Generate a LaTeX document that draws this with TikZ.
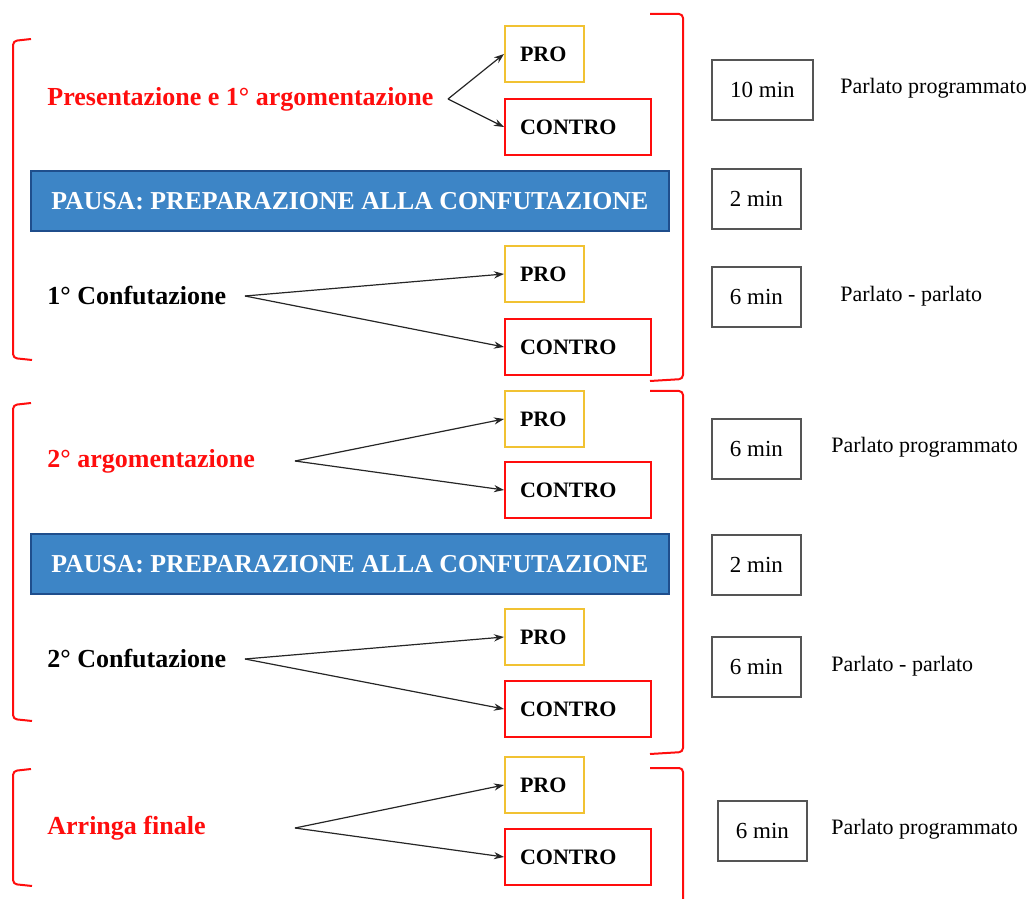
\documentclass[tikz,border=0pt]{standalone}
\usepackage{fontspec}
\setmainfont{Liberation Serif}
\usetikzlibrary{positioning,arrows.meta,calc}
\definecolor{cred}{HTML}{FF0D0D}
\definecolor{cpro}{HTML}{F1C232}
\definecolor{cblu}{HTML}{3D85C6}
\definecolor{cblud}{HTML}{1F4E8C}
\definecolor{cgry}{HTML}{555555}
\tikzset{
  pro/.style={rectangle, draw=cpro, line width=1pt, minimum height=28pt,
              text width=24.5pt, inner xsep=7.5pt, align=left,
              font=\fontsize{11}{13}\selectfont\bfseries, anchor=north west},
  contro/.style={pro, draw=cred, text width=58pt},
  pausa/.style={rectangle, draw=cblud, fill=cblu, line width=0.8pt,
                minimum width=319pt, minimum height=30pt, text=white,
                font=\fontsize{12.9}{15}\selectfont\bfseries, anchor=north west},
  tempo/.style={rectangle, draw=cgry, line width=0.9pt, minimum width=44.5pt,
                minimum height=30pt, font=\fontsize{11.5}{13}\selectfont, anchor=north west},
  fase/.style={anchor=west, inner sep=0pt, font=\fontsize{13}{15}\selectfont\bfseries},
  nota/.style={anchor=west, inner sep=0pt, font=\fontsize{11}{13}\selectfont},
  flow/.style={-{Stealth[length=5pt,width=3.6pt]}, line width=0.6pt, draw=black!85},
  brk/.style={draw=cred, line width=1pt, rounded corners=2pt}
}
\begin{document}
\begin{tikzpicture}[x=0.5pt, y=-0.5pt]
\useasboundingbox (0,0) rectangle (1030,899);
% blocco 1
\node[fase, text=cred] (f1) at (47,99) {Presentazione e 1° argomentazione};
\node[pro] (p1) at (504,25) {PRO};
\node[contro] (c1) at (504,98) {CONTRO};
\coordinate (s1) at (448,99);
\draw[flow] (s1)--(p1.west); \draw[flow] (s1)--(c1.west);
\node[pausa] (z1) at (30,170) {PAUSA: PREPARAZIONE ALLA CONFUTAZIONE};
\node[fase] (f2) at (47,296) {1° Confutazione};
\node[pro] (p2) at (504,245) {PRO};
\node[contro] (c2) at (504,318) {CONTRO};
\coordinate (s2) at (245,296);
\draw[flow] (s2)--(p2.west); \draw[flow] (s2)--(c2.west);
% blocco 2
\node[fase, text=cred] (f3) at (47,461) {2° argomentazione};
\node[pro] (p3) at (504,390) {PRO};
\node[contro] (c3) at (504,461) {CONTRO};
\coordinate (s3) at (295,461);
\draw[flow] (s3)--(p3.west); \draw[flow] (s3)--(c3.west);
\node[pausa] (z2) at (30,533) {PAUSA: PREPARAZIONE ALLA CONFUTAZIONE};
\node[fase] (f4) at (47,659) {2° Confutazione};
\node[pro] (p4) at (504,608) {PRO};
\node[contro] (c4) at (504,680) {CONTRO};
\coordinate (s4) at (245,659);
\draw[flow] (s4)--(p4.west); \draw[flow] (s4)--(c4.west);
% blocco 3
\node[fase, text=cred] (f5) at (47,828) {Arringa finale};
\node[pro] (p5) at (504,756) {PRO};
\node[contro] (c5) at (504,828) {CONTRO};
\coordinate (s5) at (295,828);
\draw[flow] (s5)--(p5.west); \draw[flow] (s5)--(c5.west);
% parentesi
\draw[brk] (31,39)--(13,41)--(13,358)--(32,360);
\draw[brk] (31,403)--(13,405)--(13,719)--(32,721);
\draw[brk] (31,769)--(13,771)--(13,884)--(32,886);
\draw[brk] (650,14) -| (683,379) -- (650,381);
\draw[brk] (650,391) -| (683,752) -- (650,754);
\draw[brk] (650,768) -| (683,899);
% tempi
\node[tempo, minimum width=50.5pt] (t1) at (711,59) {10 min};
\node[tempo] (t2) at (711,168) {2 min};
\node[tempo] (t3) at (711,266) {6 min};
\node[tempo] (t4) at (711,418) {6 min};
\node[tempo] (t5) at (711,534) {2 min};
\node[tempo] (t6) at (711,636) {6 min};
\node[tempo] (t7) at (717,800) {6 min};
\node[nota] (n1) at (840,88) {Parlato programmato};
\node[nota] (n2) at (840,296) {Parlato - parlato};
\node[nota] (n3) at (831,447) {Parlato programmato};
\node[nota] (n4) at (831,666) {Parlato - parlato};
\node[nota] (n5) at (831,829) {Parlato programmato};
\end{tikzpicture}
\end{document}
